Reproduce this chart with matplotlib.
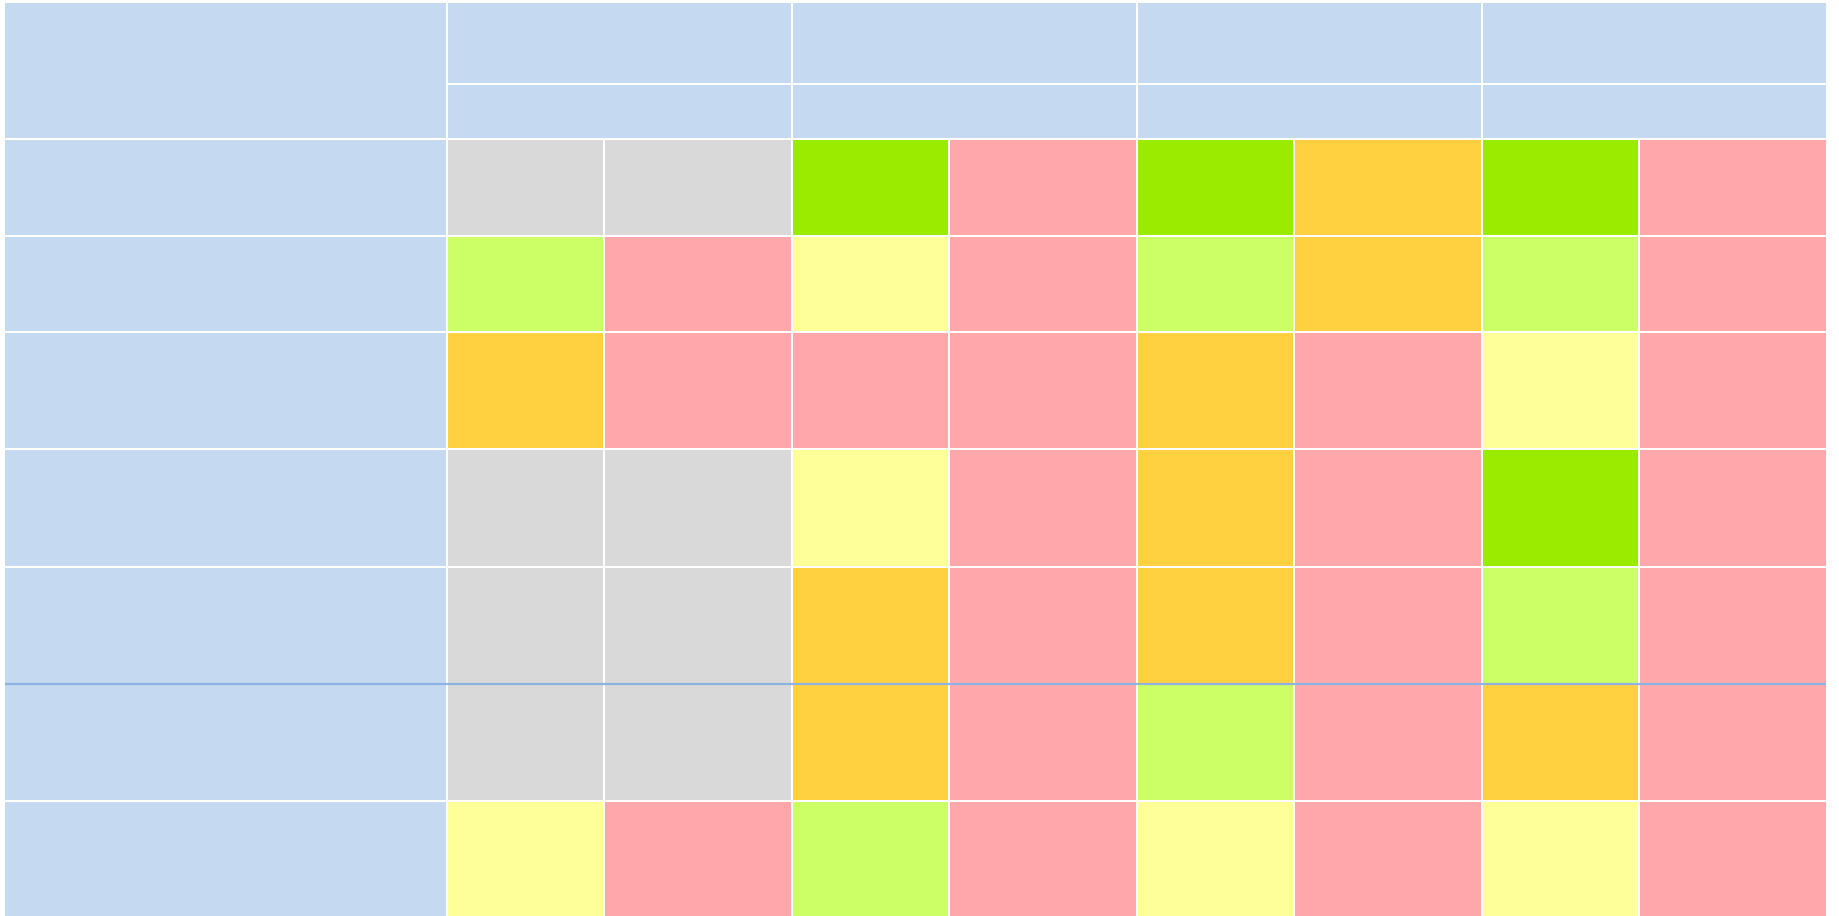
import numpy as np
import matplotlib
matplotlib.use("Agg")
import matplotlib.pyplot as plt
import matplotlib.patches as patches

# Rating grid: 7 criteria rows x 4 groups, each group split in 2 sub-columns
row_labels = ["", "", "", "", "", "", ""]
group_labels = ["", "", "", ""]
sub_labels = ["", "", "", ""]

# status of every cell, left to right
ratings = [
    ["na", "na", "best", "poor", "best", "mid", "best", "poor"],
    ["good", "poor", "fair", "poor", "good", "mid", "good", "poor"],
    ["mid", "poor", "poor", "poor", "mid", "poor", "fair", "poor"],
    ["na", "na", "fair", "poor", "mid", "poor", "best", "poor"],
    ["na", "na", "mid", "poor", "mid", "poor", "good", "poor"],
    ["na", "na", "mid", "poor", "good", "poor", "mid", "poor"],
    ["fair", "poor", "good", "poor", "fair", "poor", "fair", "poor"],
]

status_colors = {
    "na": "#D9D9D9",
    "best": "#9BEB00",
    "good": "#CCFF66",
    "fair": "#FFFF99",
    "mid": "#FFD140",
    "poor": "#FFA7AA",
}
header_color = "#C5D9F1"
rule_color = "#8DB3E2"

# layout in pixels
W, H = 1839, 916
x0, y0 = 5, 3
gap = 2
label_w = 441
sub_w = [155.5, 185.5]
header_h = [80, 53]
row_h = [95, 94, 115, 116, 115, 115, 116]
rule_after = 4  # blue rule under this data row

fig = plt.figure(figsize=(W / 100, H / 100), dpi=100)
ax = fig.add_axes([0, 0, 1, 1])
ax.set_xlim(0, W)
ax.set_ylim(H, 0)
ax.axis("off")


def cell(x, y, w, h, color):
    ax.add_patch(patches.Rectangle((x, y), w, h, facecolor=color, edgecolor="none"))


# column edges
col_x = [x0 + label_w + gap]
for g in range(len(group_labels)):
    for s in range(2):
        col_x.append(col_x[-1] + sub_w[s] + gap)
group_w = sub_w[0] + sub_w[1] + gap
right = col_x[-1] - gap

# header
top_h = header_h[0] + gap + header_h[1]
cell(x0, y0, label_w, top_h, header_color)
for g in range(len(group_labels)):
    gx = col_x[2 * g]
    cell(gx, y0, group_w, header_h[0], header_color)
    cell(gx, y0 + header_h[0] + gap, group_w, header_h[1], header_color)
    ax.text(gx + group_w / 2, y0 + header_h[0] / 2, group_labels[g], ha="center", va="center")
    ax.text(gx + group_w / 2, y0 + header_h[0] + gap + header_h[1] / 2, sub_labels[g],
            ha="center", va="center")

# body
y = y0 + top_h + gap
for r, rating_row in enumerate(ratings):
    cell(x0, y, label_w, row_h[r], header_color)
    ax.text(x0 + 10, y + row_h[r] / 2, row_labels[r], ha="left", va="center")
    for c, status in enumerate(rating_row):
        cell(col_x[c], y, sub_w[c % 2], row_h[r], status_colors[status])
    y += row_h[r] + gap
    if r == rule_after:
        ax.plot([x0, right], [y - gap / 2, y - gap / 2], color=rule_color, lw=1.6,
                solid_capstyle="butt")

fig.savefig("out.png", dpi=100, facecolor="white")
